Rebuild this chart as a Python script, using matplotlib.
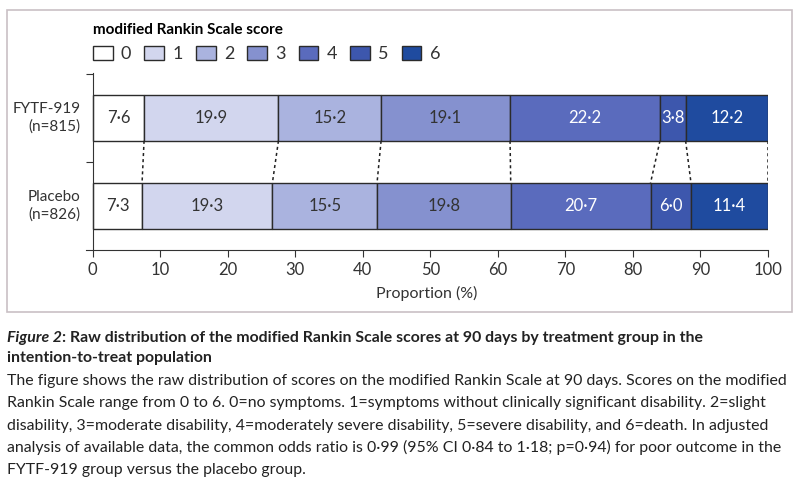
import numpy as np
import matplotlib
matplotlib.use('Agg')
import matplotlib.pyplot as plt
from matplotlib.patches import Rectangle

plt.rcParams['font.family'] = ['Lato', 'DejaVu Sans']

scores = ['0', '1', '2', '3', '4', '5', '6']
groups = ['Placebo\n(n=826)', 'FYTF-919\n(n=815)']
fytf = [7.6, 19.9, 15.2, 19.1, 22.2, 3.8, 12.2]
placebo = [7.3, 19.3, 15.5, 19.8, 20.7, 6.0, 11.4]
colors = ['#ffffff', '#d2d6ee', '#aab3df', '#8591cf', '#5a6bbd', '#3d57ad', '#1f4b9f']
text_colors = ['#333333', '#333333', '#333333', '#333333', '#ffffff', '#ffffff', '#ffffff']
ticks = [0, 10, 20, 30, 40, 50, 60, 70, 80, 90, 100]

fig = plt.figure(figsize=(8, 4.94), dpi=100)
ax = fig.add_axes([86/800, 1-250/494, (768-86)/800, (250-73)/494])

data = [placebo, fytf]
h = 0.52
for yi, vals in enumerate(data):
    left = 0
    for k, v in enumerate(vals):
        ax.barh(yi, v, left=left, height=h, color=colors[k], edgecolor='#2b2b2b',
                linewidth=1, label=scores[k] if yi == 0 else None)
        ax.text(left + v/2, yi, f'{v:.1f}'.replace('.', '·'), ha='center', va='center',
                fontsize=12, color=text_colors[k])
        left += v

# dotted connectors between the cumulative boundaries
cf = np.cumsum(fytf)
cp = np.cumsum(placebo)
for a, b in zip(cf, cp):
    ax.plot([a, b], [1 - h/2, h/2], color='#222222', linestyle=(0, (2, 2)), linewidth=1.1)

ax.set_xlim(-1, 100)
ax.set_ylim(-0.5, 1.51)
ax.spines['top'].set_visible(False)
ax.spines['right'].set_visible(False)
ax.spines['left'].set_position(('data', 0))
ax.spines['left'].set_color('#333333')
ax.spines['bottom'].set_color('#333333')
ax.set_xticks(ticks)
ax.set_xticklabels([str(t) for t in ticks], fontsize=12, color='#333333')
ax.set_yticks([0.5, 1.5])
ax.set_yticklabels([])
ax.tick_params(axis='both', length=5, color='#333333')
ax.set_xlabel('Proportion (%)', fontsize=11.5, color='#333333', labelpad=6)
for yi, g in enumerate(groups):
    ax.text(-1.8, yi, g, ha='right', va='center', fontsize=11, color='#333333',
            linespacing=1.35, transform=ax.transData)

leg = ax.legend(ncol=7, loc='lower left', bbox_to_anchor=(7/682, 1.06), frameon=False,
                title='modified Rankin Scale score', alignment='left',
                title_fontproperties={'weight': 'bold', 'size': 11},
                fontsize=13, handlelength=1.1, handleheight=0.75, handletextpad=0.45,
                columnspacing=0.72, borderaxespad=0, borderpad=0)
for t in leg.get_texts():
    t.set_color('#333333')

# chart frame
fig.patches.append(Rectangle((7/800, 1-312/494), 785/800, 302/494, transform=fig.transFigure,
                             fill=False, edgecolor='#c9c0c5', linewidth=1.2))

# caption, sized so the lines keep the widths seen in the reference
fig.canvas.draw()
r = fig.canvas.get_renderer()

def fit(txt, target):
    w = txt.get_window_extent(r).width
    txt.set_fontsize(txt.get_fontsize() * target / w)

title1 = ': Raw distribution of the modified Rankin Scale scores at 90 days by treatment group in the'
t1 = fig.text(7/800, 1-338/494, 'Figure 2', fontsize=13, style='italic', weight='bold',
              va='center', color='#222222')
t2 = fig.text(0, 1-338/494, title1, fontsize=13, weight='bold', va='center', color='#222222')
w1 = t1.get_window_extent(r).width
w2 = t2.get_window_extent(r).width
tsize = 13 * 698 / (w1 + w2)
t1.set_fontsize(tsize)
t2.set_fontsize(tsize)
t2.set_x((7 + w1 * tsize / 13) / 800)
fig.text(7/800, 1-358/494, 'intention-to-treat population', fontsize=tsize, weight='bold',
         va='center', color='#222222')

body = ['The figure shows the raw distribution of scores on the modified Rankin Scale at 90 days. Scores on the modified',
        'Rankin Scale range from 0 to 6. 0=no symptoms. 1=symptoms without clinically significant disability. 2=slight',
        'disability, 3=moderate disability, 4=moderately severe disability, 5=severe disability, and 6=death. In adjusted',
        'analysis of available data, the common odds ratio is 0·99 (95% CI 0·84 to 1·18; p=0·94) for poor outcome in the',
        'FYTF-919 group versus the placebo group.']
first = fig.text(7/800, 1-381/494, body[0], fontsize=13, va='center', color='#222222')
fit(first, 775)
bsize = first.get_fontsize()
for i, line in enumerate(body[1:], start=1):
    fig.text(7/800, 1-(381 + 22.3*i)/494, line, fontsize=bsize, va='center', color='#222222')

fig.savefig('out.png', dpi=100)
